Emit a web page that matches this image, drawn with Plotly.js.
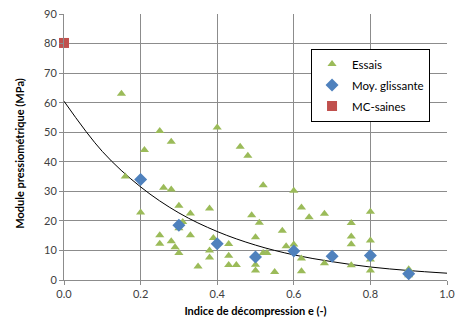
<!DOCTYPE html>
<html>
<head>
<meta charset="utf-8">
<script src="https://cdn.plot.ly/plotly-3.0.1.min.js"></script>
<style>html,body{margin:0;padding:0;background:#fff;}#chart{width:456px;height:320px;}</style>
</head>
<body>
<div id="chart"></div>
<script>
// Essais (test points)
const essaisX = [0.15,0.16,0.21,0.25,0.28,0.40,0.46,0.48,
  0.26,0.28,0.30,0.33,0.38,0.20,0.31,0.30,0.25,0.25,0.28,0.29,0.30,0.33,0.35,0.39,0.38,0.38,
  0.43,0.43,0.43,0.45,0.49,0.51,0.50,0.50,0.50,0.52,0.60,0.62,0.64,0.68,0.80,0.57,
  0.75,0.75,0.75,0.80,0.58,0.60,0.52,0.53,0.62,0.68,0.75,0.80,0.80,0.55,0.62,0.90,0.90];
const essaisY = [63,35,44,50.4,46.8,51.6,45.1,42,
  31.2,30.6,25.1,22.5,24.2,22.8,19.6,17.5,15.1,12.3,13.1,11.1,9.1,15.1,4.6,14.2,10,7.6,
  12.2,8.2,5.1,5.1,21.9,19.4,14.5,5.2,3.2,32.1,30.2,24.5,21.2,22.4,23.1,16.7,
  19.3,14.7,12.1,13.4,11.4,12.0,9.1,9.1,7.3,5.7,5.0,6.9,3.2,2.7,3.0,3.6,1.6];
// Moyenne glissante
const moyX = [0.2,0.3,0.4,0.5,0.6,0.7,0.8,0.9];
const moyY = [34.0,18.5,12.3,7.8,9.8,8.0,8.3,2.1];
// MC-saines
const mcX = [0];
const mcY = [80.2];
// Trend curve
const trendX = [0,0.1,0.2,0.3,0.4,0.5,0.6,0.7,0.8,0.9,1.0];
const trendY = [60.5,43.5,31.5,22.7,16.4,11.8,8.5,6.2,4.4,3.2,2.3];

const xTicks = [0,0.2,0.4,0.6,0.8,1.0];
const xTickText = ['0.0','0.2','0.4','0.6','0.8','1.0'];
const yTicks = [0,10,20,30,40,50,60,70,80,90];
const yTitle = 'Module pressiométrique (MPa)';

const data = [
  {x: trendX, y: trendY, type:'scatter', mode:'lines', line:{color:'#000', width:1, shape:'spline'}, showlegend:false, hoverinfo:'skip'},
  {x: essaisX, y: essaisY, type:'scatter', mode:'markers', name:'Essais', legendgroup:'a',
   marker:{symbol:'triangle-up', size:8, color:'#9BBB59'}},
  {x: moyX, y: moyY, type:'scatter', mode:'markers', name:'Moy. glissante', legendgroup:'b',
   marker:{symbol:'diamond', size:10, color:'#4F81BD'}},
  {x: mcX, y: mcY, type:'scatter', mode:'markers', name:'MC-saines', cliponaxis:false, legendgroup:'c',
   marker:{symbol:'square', size:10, color:'#C0504D'}}
];

const layout = {
  width:456, height:320,
  margin:{l:64, r:9, t:14, b:40, pad:0},
  paper_bgcolor:'#fff', plot_bgcolor:'#fff',
  font:{family:'Lato, sans-serif', size:11, color:'#404040'},
  xaxis:{range:[0,1], tickvals:xTicks, ticktext:xTickText, showgrid:true, gridcolor:'#8c8c8c', gridwidth:1,
    showline:true, linecolor:'#8c8c8c', ticks:'outside', ticklen:4, tickcolor:'#8c8c8c', zeroline:false,
    tickfont:{size:11, color:'#404040'},
    title:{text:'<b>Indice de décompression e (-)</b>', font:{size:11, color:'#000'}, standoff:8}},
  yaxis:{range:[0,90], tickvals:yTicks, showgrid:true, gridcolor:'#8c8c8c', gridwidth:1,
    showline:true, linecolor:'#8c8c8c', ticks:'outside', ticklen:4, tickcolor:'#8c8c8c', zeroline:false,
    tickfont:{size:11, color:'#404040'}},
  annotations:[{text:'<b>'+yTitle+'</b>', xref:'paper', yref:'paper', x:-0.115, y:0.478,
    xanchor:'center', yanchor:'middle', textangle:-90, showarrow:false, font:{size:11, color:'#000'}}],
  legend:{x:0.645, y:0.87, xanchor:'left', yanchor:'top', bgcolor:'#fff', bordercolor:'#000', borderwidth:1,
    font:{size:11.5, color:'#000'}, tracegroupgap:2, itemwidth:30},
  showlegend:true
};

Plotly.newPlot('chart', data, layout, {displayModeBar:false, staticPlot:true});
</script>
</body>
</html>
